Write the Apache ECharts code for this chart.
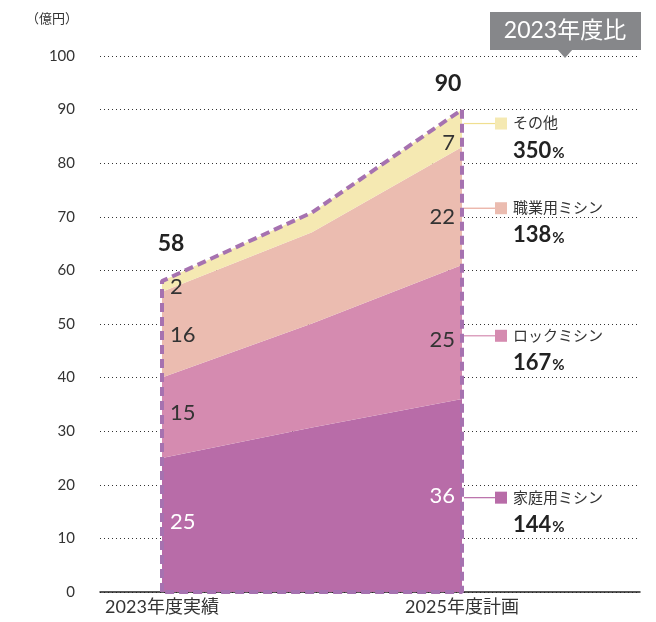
<!DOCTYPE html>
<html>
<head>
<meta charset="utf-8">
<script src="https://cdn.jsdelivr.net/npm/echarts@6/dist/echarts.min.js"></script>
<style>
  html, body { margin: 0; padding: 0; background: #fff; }
  #chart { width: 656px; height: 622px; }
</style>
</head>
<body>
<div id="chart"></div>
<script>
// --- data ---
const years       = ['2023年度実績', '2024年度', '2025年度計画'];
const seriesNames = ['家庭用ミシン', 'ロックミシン', '職業用ミシン', 'その他'];
const homeValues  = [25, 30.7, 36];
const lockValues  = [15, 19.4, 25];
const proValues   = [16, 17, 22];
const otherValues = [2, 3.7, 7];
const badgeText   = '2023年度比';
const unitText    = '（億円）';

// --- layout / style ---
const colors     = ['#b86ca8', '#d58bb0', '#ebbcb0', '#f5e9b2'];
const lineColors = ['#b86ca8', '#d48bb0', '#e8a99c', '#f0df90'];
const FONT       = 'Lato, "Noto Sans CJK JP", sans-serif';
const label23Y   = [13, 33.5, 48, 57];      // label heights (axis units) at 2023
const label25Y   = [18, 47, 70, 83.7];      // label heights at 2025
const calloutY   = [17.6, 47.8, 71.6, 87.4]; // callout line heights

const stacks = [homeValues, lockValues, proValues, otherValues];
const totals = years.map((_, i) => stacks.reduce((s, a) => s + a[i], 0));
const outline = [[0, 0], [0, totals[0]], [1, totals[1]], [2, totals[2]], [2, 0], [0, 0]];

const chart = echarts.init(document.getElementById('chart'));

chart.setOption({
  animation: false,
  grid: [
    { left: 100, right: 16, top: 56, bottom: 30 },
    { left: 162, right: 194, top: 56, bottom: 30 }
  ],
  xAxis: [
    {
      gridIndex: 0, type: 'value', min: 0, max: 1,
      axisLine: { show: true, lineStyle: { color: '#222', width: 1.5 } },
      axisTick: { show: false }, axisLabel: { show: false }, splitLine: { show: false }
    },
    {
      gridIndex: 1, type: 'category', boundaryGap: false, data: years,
      axisLine: { show: false }, axisTick: { show: false },
      axisLabel: { interval: (i) => i !== 1, color: '#333', fontSize: 18, margin: 6, fontFamily: FONT }
    }
  ],
  yAxis: [
    {
      gridIndex: 0, type: 'value', min: 0, max: 100, interval: 10,
      axisLine: { show: false }, axisTick: { show: false },
      axisLabel: { color: '#333', fontSize: 15, margin: 25, fontFamily: FONT },
      splitLine: { lineStyle: { type: [1, 3], color: '#333', width: 1 } }
    },
    { gridIndex: 1, type: 'value', min: 0, max: 100, interval: 10, show: false }
  ],
  series: [
    ...stacks.map((vals, k) => ({
      name: seriesNames[k], type: 'line', xAxisIndex: 1, yAxisIndex: 1,
      stack: 'total', data: vals, symbol: 'none',
      lineStyle: { width: 0, color: colors[k] },
      areaStyle: { color: colors[k], opacity: 1 },
      z: 2
    })),
    {
      type: 'line', xAxisIndex: 1, yAxisIndex: 1, data: outline, symbol: 'none',
      lineStyle: { color: '#a672b0', width: 4, type: [9, 5] },
      z: 5, silent: true
    }
  ]
});

// --- 텍스트/콜아웃 ---
const px = (i, v) => chart.convertToPixel({ gridIndex: 1 }, [i, v]);
const g = [];

stacks.forEach((vals, k) => {
  const fill = k === 0 ? '#fff' : '#333';
  const p0 = px(0, label23Y[k]);
  g.push({ type: 'text', z: 10, style: { text: String(vals[0]), x: p0[0] + 8, y: p0[1], fill, fontSize: 22, fontFamily: FONT, align: 'left', verticalAlign: 'middle' } });
  const p2 = px(2, label25Y[k]);
  g.push({ type: 'text', z: 10, style: { text: String(vals[2]), x: p2[0] - 7, y: p2[1], fill, fontSize: 22, fontFamily: FONT, align: 'right', verticalAlign: 'middle' } });

  const c = px(2, calloutY[k]);
  g.push({ type: 'line', z: 10, shape: { x1: c[0] + 2, y1: c[1], x2: 495, y2: c[1] }, style: { stroke: lineColors[k], lineWidth: 1.2 } });
  g.push({ type: 'rect', z: 10, shape: { x: 495, y: c[1] - 6, width: 12, height: 12 }, style: { fill: colors[k] } });
  g.push({ type: 'text', z: 10, style: { text: seriesNames[k], x: 513, y: c[1], fill: '#333', fontSize: 15, fontFamily: FONT, verticalAlign: 'middle', backgroundColor: '#fff', padding: [0, 3, 0, 0] } });
  const pct = Math.round(vals[2] / vals[0] * 100);
  g.push({
    type: 'text', z: 10,
    style: {
      text: '{n|' + pct + '}{p|%}', x: 513, y: c[1] + 27, verticalAlign: 'middle',
      rich: {
        n: { fontSize: 22, fontWeight: 'bold', fill: '#222', fontFamily: FONT },
        p: { fontSize: 15, fontWeight: 'bold', fill: '#222', fontFamily: FONT, padding: [5, 0, 0, 1] }
      }
    }
  });
});

// totals
const t0 = px(0, totals[0]);
const t2 = px(2, totals[2]);
g.push({ type: 'text', z: 10, style: { text: String(totals[0]), x: t0[0] + 9, y: t0[1] - 38, fill: '#222', fontSize: 23, fontWeight: 'bold', fontFamily: FONT, align: 'center', verticalAlign: 'middle' } });
g.push({ type: 'text', z: 10, style: { text: String(totals[2]), x: t2[0] - 14, y: t2[1] - 26, fill: '#222', fontSize: 23, fontWeight: 'bold', fontFamily: FONT, align: 'center', verticalAlign: 'middle' } });

// badge
g.push({ type: 'rect', z: 10, shape: { x: 490, y: 12, width: 151, height: 38 }, style: { fill: '#86878a' } });
g.push({ type: 'polygon', z: 10, shape: { points: [[557, 49], [573, 49], [565, 58]] }, style: { fill: '#86878a' } });
g.push({ type: 'text', z: 11, style: { text: badgeText, x: 565, y: 31, fill: '#fff', fontSize: 23, fontFamily: FONT, align: 'center', verticalAlign: 'middle' } });

// unit
g.push({ type: 'text', z: 10, style: { text: unitText, x: 52, y: 19, fill: '#333', fontSize: 13, fontFamily: FONT, align: 'center', verticalAlign: 'middle' } });

chart.setOption({ graphic: g });
</script>
</body>
</html>
